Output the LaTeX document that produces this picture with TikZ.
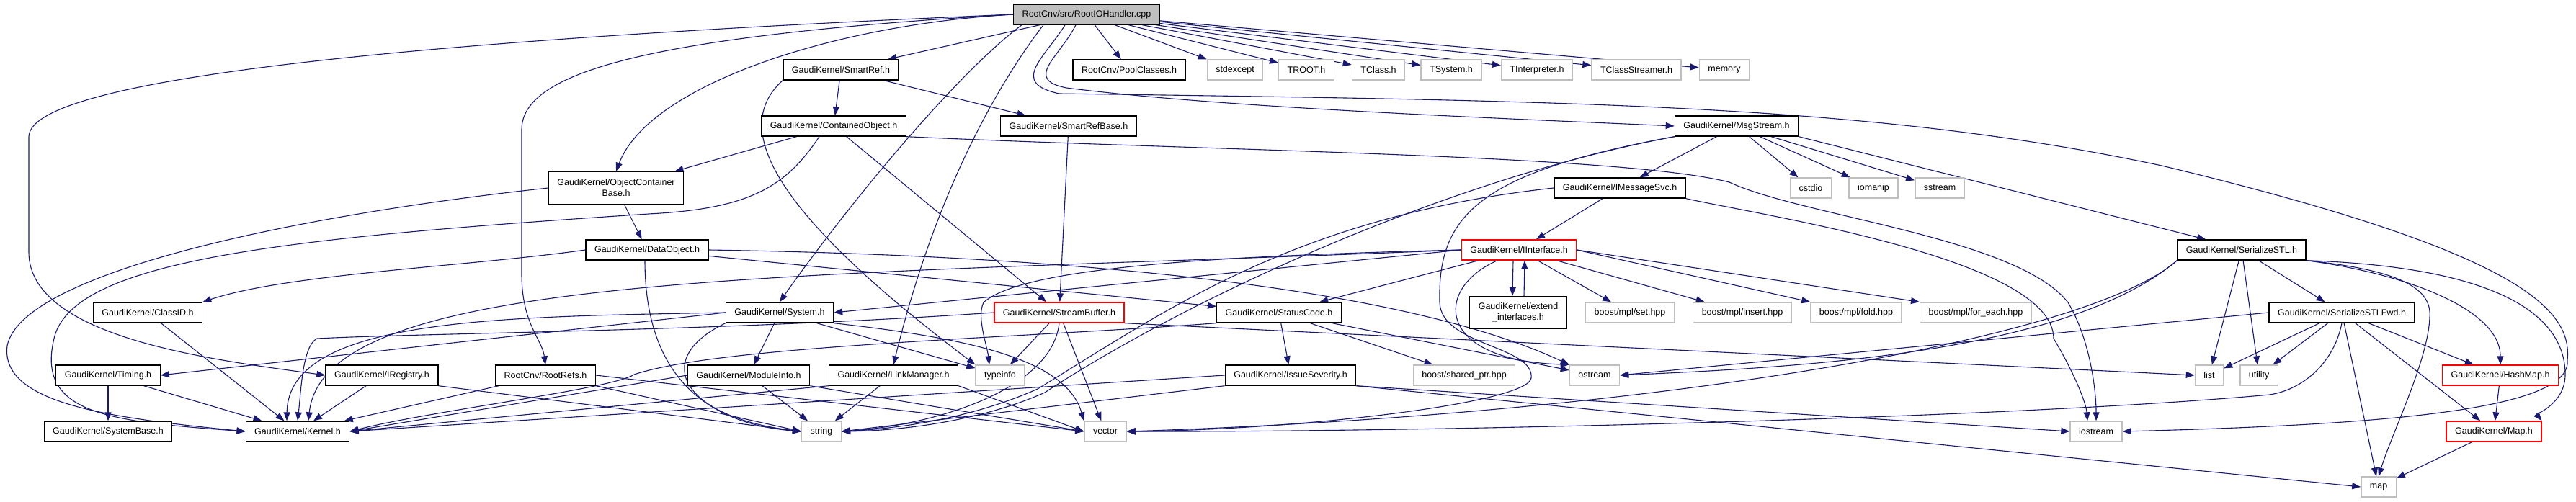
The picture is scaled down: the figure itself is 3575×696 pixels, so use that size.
\documentclass[tikz,border=0pt]{standalone}
\usepackage{fontspec}
\setmainfont{Liberation Sans}
\usetikzlibrary{arrows.meta}
\pgfdeclarelayer{bg}
\pgfsetlayers{bg,main}
\definecolor{depblue}{HTML}{191970}
\definecolor{sysgray}{HTML}{BFBFBF}
\definecolor{rootgray}{HTML}{BFBFBF}

\begin{document}
\begin{tikzpicture}[
x=1pt,y=-1pt,
>={Triangle[length=12pt,width=9pt]},
file/.style={draw=black,line width=1.4pt,fill=white,minimum height=28pt,inner xsep=12pt,inner ysep=0pt,font=\fontsize{12.5}{15}\selectfont},
sysfile/.style={file,draw=sysgray},
cutfile/.style={file,draw=red},
twoline/.style={align=center,minimum height=45pt},
dep/.style={draw=depblue,line width=1.1pt,->}
]
\useasboundingbox (0,0) rectangle (3575,696);

\node[file,fill=rootgray] (root) at (1508,20) {RootCnv/src/RootIOHandler.cpp};
	\node[file] (SmartRef) at (1167,97) {GaudiKernel/SmartRef.h};
	\node[file] (PoolClasses) at (1567,97) {RootCnv/PoolClasses.h};
	\node[sysfile] (stdexcept) at (1714,97) {stdexcept};
	\node[sysfile] (TROOT) at (1813,97) {TROOT.h};
	\node[sysfile] (TClass) at (1913,97) {TClass.h};
	\node[sysfile] (TSystem) at (2014,97) {TSystem.h};
	\node[sysfile] (TInterpreter) at (2133,97) {TInterpreter.h};
	\node[sysfile] (TClassStreamer) at (2271,97) {TClassStreamer.h};
	\node[sysfile] (memory) at (2393,97) {memory};
		\node[file] (ContainedObject) at (1157,175) {GaudiKernel/ContainedObject.h};
		\node[file] (SmartRefBase) at (1483,175) {GaudiKernel/SmartRefBase.h};
		\node[file] (MsgStream) at (2410,175) {GaudiKernel/MsgStream.h};
			\node[file,twoline] (ObjectContainerBase) at (855,261) {GaudiKernel/ObjectContainer\\Base.h};
			\node[file] (IMessageSvc) at (2248,261) {GaudiKernel/IMessageSvc.h};
			\node[sysfile] (cstdio) at (2513,261) {cstdio};
			\node[sysfile] (iomanip) at (2600,261) {iomanip};
			\node[sysfile] (sstream) at (2692,261) {sstream};
				\node[file] (DataObject) at (898,347) {GaudiKernel/DataObject.h};
				\node[cutfile] (IInterface) at (2108,347) {GaudiKernel/IInterface.h};
				\node[file] (SerializeSTL) at (3111,347) {GaudiKernel/SerializeSTL.h};
					\node[file] (ClassID) at (205,434) {GaudiKernel/ClassID.h};
					\node[file] (System) at (1082,434) {GaudiKernel/System.h};
					\node[cutfile] (StreamBuffer) at (1470,434) {GaudiKernel/StreamBuffer.h};
					\node[file] (StatusCode) at (1775,434) {GaudiKernel/StatusCode.h};
					\node[file,twoline] (extend) at (2107,434) {GaudiKernel/extend\\\_interfaces.h};
					\node[sysfile] (mplset) at (2262,434) {boost/mpl/set.hpp};
					\node[sysfile] (mplinsert) at (2418,434) {boost/mpl/insert.hpp};
					\node[sysfile] (mplfold) at (2576,434) {boost/mpl/fold.hpp};
					\node[sysfile] (mplforeach) at (2742,434) {boost/mpl/for\_each.hpp};
					\node[file] (SerializeSTLFwd) at (3250,434) {GaudiKernel/SerializeSTLFwd.h};
						\node[file] (Timing) at (150,521) {GaudiKernel/Timing.h};
						\node[file] (IRegistry) at (530,521) {GaudiKernel/IRegistry.h};
						\node[file] (RootRefs) at (757,521) {RootCnv/RootRefs.h};
						\node[file] (ModuleInfo) at (1039,521) {GaudiKernel/ModuleInfo.h};
						\node[file] (LinkManager) at (1240,521) {GaudiKernel/LinkManager.h};
						\node[sysfile] (typeinfo) at (1388,521) {typeinfo};
						\node[file] (IssueSeverity) at (1791,521) {GaudiKernel/IssueSeverity.h};
						\node[sysfile] (sharedptr) at (2032,521) {boost/shared\_ptr.hpp};
						\node[sysfile] (ostream) at (2213,521) {ostream};
						\node[sysfile] (list) at (3066,521) {list};
						\node[sysfile] (utility) at (3135,521) {utility};
						\node[cutfile] (HashMap) at (3470,521) {GaudiKernel/HashMap.h};
							\node[file] (SystemBase) at (150,599) {GaudiKernel/SystemBase.h};
							\node[file] (Kernel) at (413,599) {GaudiKernel/Kernel.h};
							\node[sysfile] (string) at (1140,599) {string};
							\node[sysfile] (vector) at (1534,599) {vector};
							\node[sysfile] (iostream) at (2909,599) {iostream};
							\node[cutfile] (Map) at (3461,599) {GaudiKernel/Map.h};
								\node[sysfile] (map) at (3301,676) {map};

\begin{pgfonlayer}{bg}
\fill[white] (0,0) rectangle (3575,696);
% RootIOHandler.cpp
\path[dep] (root) -- (SmartRef);
\path[dep] (root) -- (PoolClasses);
\foreach \hdr in {stdexcept,TROOT,TClass,TSystem,TInterpreter,TClassStreamer,memory}
	\path[dep] (root) -- (\hdr);
\path[dep] (root.west) .. controls (700,50) and (40,100) .. (40,190) -- (40,350) .. controls (40,470) and (300,500) .. (IRegistry.west);
\path[dep] (root.west) .. controls (900,50) and (724,100) .. (724,180) -- (724,380) .. controls (724,450) and (752,470) .. (RootRefs.north);
\path[dep] (root.west) .. controls (1150,35) and (900,120) .. (ObjectContainerBase.north);
\path[dep] ([xshift=-90pt]root.south) .. controls (1330,100) and (1180,280) .. (System.north);
\path[dep] ([xshift=-60pt]root.south) .. controls (1390,110) and (1300,260) .. (LinkManager.north);
\path[dep] ([xshift=-15pt]root.south) .. controls (1470,80) and (1420,110) .. (1480,122) .. controls (1700,150) and (2100,165) .. (MsgStream.west);
\path[dep] ([xshift=-30pt]root.south) .. controls (1450,80) and (1400,115) .. (1470,130) .. controls (2200,140) and (2600,145) .. (3000,230) .. controls (3500,350) and (3570,430) .. (3563,500) .. controls (3570,570) and (3300,590) .. (iostream.east);

% smart refs and containers
\path[dep] (SmartRef) -- (ContainedObject);
\path[dep] (SmartRef) -- (SmartRefBase);
\path[dep] (SmartRef.south west) .. controls (1010,180) and (1080,300) .. (typeinfo.north west);
\path[dep] (SmartRefBase) -- (StreamBuffer);
\path[dep] (ContainedObject) -- (ObjectContainerBase);
\path[dep] (ContainedObject) -- (StreamBuffer);
\path[dep] ([xshift=-20pt]ContainedObject.south) .. controls (1090,260) and (1040,290) .. (900,297) .. controls (400,330) and (100,360) .. (75,470) .. controls (50,575) and (150,585) .. (Kernel.west);
\path[dep] (ContainedObject.south east) .. controls (1700,210) and (2250,215) .. (2400,253) .. controls (2500,300) and (2800,330) .. (2870,420) .. controls (2900,470) and (2909,540) .. (iostream.north);
\path[dep] (ObjectContainerBase) -- (DataObject);
\path[dep] (ObjectContainerBase.west) .. controls (400,300) and (30,380) .. (10,480) .. controls (0,560) and (150,580) .. (Kernel.west);

% DataObject
\path[dep] (DataObject.west) .. controls (650,370) and (400,380) .. (ClassID.north east);
\path[dep] ([xshift=-3pt]DataObject.south) .. controls (895,540) and (1000,590) .. (string.west);
\path[dep] (DataObject) -- (StatusCode);
\path[dep] (DataObject.east) .. controls (1500,355) and (1950,400) .. (ostream.north west);
\path[dep] (ClassID) -- (Kernel);

% System
\path[dep] (System.west) -- (Timing.east);
\path[dep] (System.west) .. controls (700,440) and (400,440) .. ([xshift=-15pt]Kernel.north);
\path[dep] (System) -- (ModuleInfo);
\path[dep] (System.south west) .. controls (900,500) and (950,580) .. (string.west);
\path[dep] (System) -- (typeinfo);
\path[dep] (System.south east) .. controls (1350,470) and (1480,500) .. (vector.north west);
\path[dep] (Timing) -- (SystemBase);
\path[dep] (Timing) -- (Kernel);

% StreamBuffer
\path[dep] (StreamBuffer.west) .. controls (1000,460) and (600,462) .. (440,470) .. controls (420,480) and (418,540) .. (Kernel.north);
\path[dep] (StreamBuffer) -- (typeinfo);
\path[dep] (StreamBuffer.south) .. controls (1460,540) and (1300,590) .. (string.east);
\path[dep] (StreamBuffer) -- (vector);
\path[dep] (StreamBuffer.south east) -- (list.west);

% MsgStream and interfaces
\path[dep] (MsgStream) -- (IMessageSvc);
\path[dep] (MsgStream) -- (cstdio);
\path[dep] (MsgStream) -- (iomanip);
\path[dep] (MsgStream) -- (sstream);
\path[dep] (MsgStream.south east) -- ([xshift=-50pt]SerializeSTL.north);
\path[dep] (MsgStream.south west) .. controls (2000,250) and (1640,420) .. (1450,545) .. controls (1360,585) and (1250,598) .. (string.east);
\path[dep] (MsgStream.south west) .. controls (2050,240) and (1995,300) .. (1998,420) .. controls (2000,480) and (2130,480) .. (2125,525) .. controls (2120,560) and (1800,597) .. (vector.east);
\path[dep] (IMessageSvc) -- (IInterface);
\path[dep] (IMessageSvc.west) .. controls (1800,300) and (1620,430) .. (1440,540) .. controls (1350,580) and (1250,595) .. (string.east);
\path[dep] (IMessageSvc.south east) .. controls (2450,300) and (2850,360) .. (2850,470) .. controls (2880,520) and (2895,560) .. ([xshift=-12pt]iostream.north);
\path[dep] (IInterface.west) -- (System.east);
\path[dep] (IInterface.west) .. controls (1100,385) and (450,375) .. ([xshift=15pt]Kernel.north);
\path[dep] (IInterface.west) .. controls (1700,355) and (1420,370) .. (1365,420) .. controls (1355,440) and (1370,480) .. ([xshift=-15pt]typeinfo.north);
\path[dep] (IInterface) -- (StatusCode);
\path[dep] ([xshift=-8pt]IInterface.south) -- ([xshift=-8pt]extend.north);
\path[dep] ([xshift=8pt]extend.north) -- ([xshift=8pt]IInterface.south);
\path[dep] ([xshift=-30pt]IInterface.south) .. controls (1990,400) and (1990,500) .. (ostream.north west);
\path[dep] (IInterface) -- (mplset);
\path[dep] (IInterface) -- (mplinsert);
\path[dep] (IInterface.east) -- (mplfold.north west);
\path[dep] (IInterface.east) -- (mplforeach.north west);

% StatusCode
\path[dep] (StatusCode.south west) .. controls (1400,470) and (1000,480) .. (880,520) .. controls (850,540) and (600,570) .. (Kernel.east);
\path[dep] (StatusCode) -- (IssueSeverity);
\path[dep] (StatusCode) -- (sharedptr);
\path[dep] (StatusCode) -- (ostream);
\path[dep] (IssueSeverity.west) -- (Kernel.east);
\path[dep] (IssueSeverity.south west) -- (string.east);
\path[dep] (IssueSeverity.south east) -- (iostream.west);
\path[dep] (IssueSeverity.south east) -- (map.west);

% small headers
\path[dep] (IRegistry) -- (Kernel);
\path[dep] (IRegistry.south east) -- (string.west);
\path[dep] (RootRefs) -- (Kernel);
\path[dep] (RootRefs.south east) -- (string.west);
\path[dep] (RootRefs.east) -- (vector.west);
\path[dep] (ModuleInfo.west) -- (Kernel.east);
\path[dep] (ModuleInfo) -- (string);
\path[dep] (ModuleInfo.south east) -- (vector.west);
\path[dep] (LinkManager.south west) -- (Kernel.east);
\path[dep] (LinkManager) -- (string);
\path[dep] (LinkManager.south east) -- (vector.west);

% SerializeSTL
\path[dep] (SerializeSTL) -- (SerializeSTLFwd);
\path[dep] (SerializeSTL) -- (list);
\path[dep] (SerializeSTL) -- (utility);
\path[dep] (SerializeSTL.south west) .. controls (2870,490) and (2500,510) .. (ostream.east);
\path[dep] (SerializeSTL.south west) .. controls (2900,470) and (2300,575) .. (vector.east);
\path[dep] (SerializeSTL.south east) .. controls (3330,375) and (3375,400) .. (3372,440) .. controls (3370,500) and (3320,600) .. (map.north);
\path[dep] (SerializeSTL.south east) .. controls (3340,380) and (3470,430) .. (HashMap.north);
\path[dep] (SerializeSTL.south east) .. controls (3450,370) and (3560,430) .. (3560,520) .. controls (3560,560) and (3520,575) .. (Map.north east);
\path[dep] (SerializeSTLFwd.west) -- (ostream.east);
\path[dep] (SerializeSTLFwd.south) .. controls (3240,500) and (3200,540) .. (3150,548) .. controls (2800,580) and (2000,600) .. (vector.east);
\path[dep] (SerializeSTLFwd) -- (list);
\path[dep] (SerializeSTLFwd) -- (utility);
\path[dep] (SerializeSTLFwd) -- (map);
\path[dep] (SerializeSTLFwd) -- (Map);
\path[dep] (SerializeSTLFwd) -- (HashMap);
\path[dep] (HashMap) -- (Map);
\path[dep] (Map) -- (map);
\end{pgfonlayer}

\end{tikzpicture}
\end{document}
